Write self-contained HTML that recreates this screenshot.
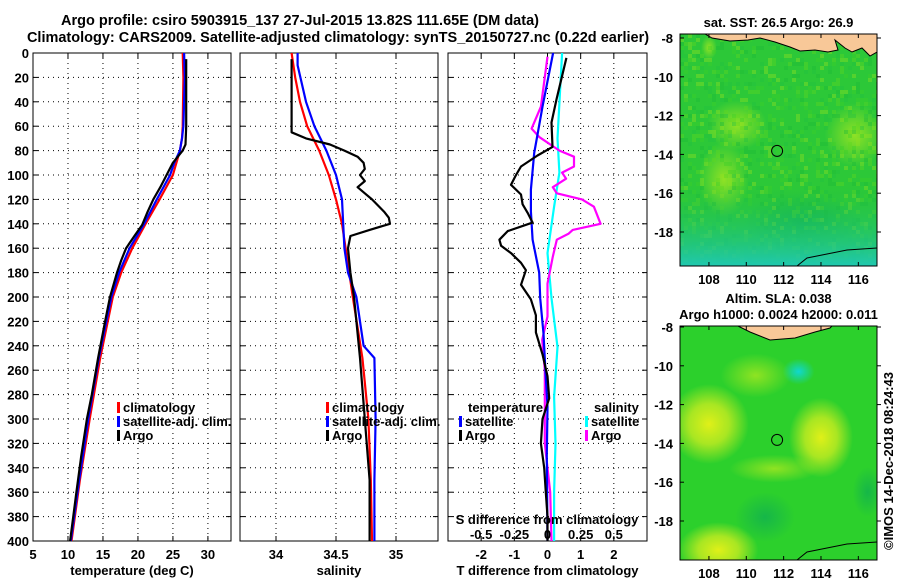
<!DOCTYPE html>
<html><head><meta charset="utf-8">
<style>
body{margin:0;background:#fff;}
svg{display:block;font-family:"Liberation Sans",sans-serif;font-weight:bold;}
text{font-size:13px;fill:#000;}
.t{font-size:14.5px;}
</style></head>
<body>
<svg id="fig" width="900" height="580" viewBox="0 0 900 580">
<defs>
<radialGradient id="yb" cx="50%" cy="50%" r="50%"><stop offset="0" stop-color="#e0f018" stop-opacity="1"/><stop offset="0.5" stop-color="#c8ec20" stop-opacity="0.8"/><stop offset="1" stop-color="#c8ec20" stop-opacity="0"/></radialGradient>
<radialGradient id="yb2" cx="50%" cy="50%" r="50%"><stop offset="0" stop-color="#a8e820" stop-opacity="0.8"/><stop offset="1" stop-color="#a8e820" stop-opacity="0"/></radialGradient>
<radialGradient id="cb" cx="50%" cy="50%" r="50%"><stop offset="0" stop-color="#10d8d0" stop-opacity="1"/><stop offset="1" stop-color="#10d8d0" stop-opacity="0"/></radialGradient>
<radialGradient id="db" cx="50%" cy="50%" r="50%"><stop offset="0" stop-color="#10b050" stop-opacity="0.8"/><stop offset="1" stop-color="#10b050" stop-opacity="0"/></radialGradient>
<linearGradient id="sstbot" x1="0" y1="0" x2="0" y2="1"><stop offset="0.65" stop-color="#1cc040" stop-opacity="0"/><stop offset="1" stop-color="#20c8b0" stop-opacity="1"/></linearGradient>
<clipPath id="m1c"><rect x="680" y="34" width="197" height="232"/></clipPath>
<clipPath id="m2c"><rect x="680" y="326" width="197" height="234"/></clipPath>
</defs>
<text class="t" x="300" y="25" text-anchor="middle">Argo profile: csiro 5903915_137 27-Jul-2015 13.82S 111.65E (DM data)</text>
<text class="t" x="338" y="42" text-anchor="middle">Climatology: CARS2009. Satellite-adjusted climatology: synTS_20150727.nc (0.22d earlier)</text>
<g id="panels"></g>
<g id="maps"></g>
<text x="0" y="0" transform="translate(893,550) rotate(-90)" font-size="12">©IMOS 14-Dec-2018 08:24:43</text>
</svg>
<script>
// ---- data ----
const depthTick=[0,20,40,60,80,100,120,140,160,180,200,220,240,260,280,300,320,340,360,380,400];
const tTicks=[5,10,15,20,25,30];
const sTicks=[34,34.5,35];
const dTTicks=[-2,-1,0,1,2];
const dSTicks=[-0.5,-0.25,0,0.25,0.5];
const dSTickLabels=["-0.5","-0.25","0","0.25","0.5"];

const tClimZ=[0,20,60,70,80,90,100,120,140,160,180,200,250,300,350,400];
const tClimV=[26.4,26.5,26.4,26.3,26.0,25.5,25.0,23.1,21.1,19.2,17.6,16.4,14.6,13.1,11.7,10.5];
const tSatZ=[0,20,60,70,80,90,100,120,140,160,180,200,250,300,350,400];
const tSatV=[26.6,26.7,26.5,26.3,26.0,25.2,24.6,22.7,20.9,18.8,17.3,16.2,14.4,12.9,11.6,10.4];
const tArgoZ=[5,20,40,60,75,80,90,100,110,120,130,141,150,160,170,180,200,220,250,280,300,330,360,400];
const tArgoV=[26.9,26.9,26.9,26.9,26.8,26.4,25.0,24.1,23.2,22.2,21.4,20.6,19.5,18.3,17.6,17.0,16.0,15.3,14.3,13.4,12.7,11.9,11.2,10.3];

const sClimZ=[0,20,40,60,80,100,120,140,160,180,200,250,300,350,400];
const sClimV=[34.13,34.16,34.2,34.26,34.36,34.44,34.5,34.55,34.58,34.61,34.64,34.72,34.77,34.79,34.8];
const sSatZ=[0,10,40,60,80,100,120,140,160,180,200,240,250,300,350,400];
const sSatV=[34.18,34.18,34.25,34.32,34.42,34.5,34.55,34.56,34.57,34.6,34.67,34.73,34.82,34.83,34.82,34.82];
const sArgoZ=[5,40,65,70,75,80,85,90,95,100,105,110,115,120,125,130,135,140,145,150,160,180,200,250,300,350,400];
const sArgoV=[34.13,34.13,34.13,34.25,34.45,34.57,34.68,34.73,34.74,34.7,34.74,34.68,34.74,34.8,34.85,34.9,34.94,34.95,34.78,34.62,34.6,34.62,34.65,34.7,34.74,34.78,34.78];

const dTArgoZ=[4,38,57,77,84,93,100,108,116,124,131,139,146,153,158,164,172,178,190,202,215,229,247,265,283,300,320,340,360,380,400];
const dTArgoV=[0.57,0.27,0.12,0.15,-0.3,-0.8,-0.95,-1.1,-0.8,-0.75,-0.6,-0.45,-1.2,-1.45,-1.4,-1.1,-0.8,-0.65,-0.8,-0.5,-0.35,-0.35,-0.15,0.0,0.05,-0.15,-0.2,-0.1,-0.05,0.0,0.0];
const dTSatZ=[0,44,82,112,130,153,180,201,230,257,290,330,400];
const dTSatV=[0.17,-0.15,-0.4,-0.5,-0.5,-0.45,-0.25,-0.22,-0.12,-0.07,0.0,-0.02,0.0];
const dSSatZ=[0,70,98,126,164,201,241,282,320,360,400];
const dSSatV=[0.11,0.075,0.09,0.05,0.0,0.03,0.075,0.05,0.06,0.05,0.05];
const dSArgoZ=[3,44,62,69,80,85,93,98,103,110,115,120,126,140,145,148,153,167,189,216,235,260,282,320,360,400];
const dSArgoV=[0.0,-0.05,-0.12,-0.06,0.09,0.2,0.2,0.11,0.14,0.04,0.07,0.26,0.35,0.4,0.19,0.16,0.07,0.04,0.0,0.0,-0.04,-0.02,-0.02,-0.02,0.02,0.03];

// ---- helpers ----
const NS="http://www.w3.org/2000/svg";
const Y0=53,Y1=541;
const yD=d=>Y0+(d/400)*(Y1-Y0);
function mk(tag,attrs,parent){const e=document.createElementNS(NS,tag);for(const k in attrs)e.setAttribute(k,attrs[k]);parent.appendChild(e);return e;}
const P=document.getElementById('panels');

function panel(name,x0,x1,vmin,vmax,ticks,tickLabels,xlabel){
  const g=mk('g',{},P);
  
  
  const xs=v=>x0+(v-vmin)/(vmax-vmin)*(x1-x0);
  depthTick.forEach((d,i)=>{
    if(i>0&&i<depthTick.length-1){const l=mk('line',{x1:x0,x2:x1,y1:yD(d),y2:yD(d),stroke:'#000','stroke-dasharray':'1,4','stroke-width':1},g);
    }
    mk('line',{x1:x0,x2:x0+5,y1:yD(d),y2:yD(d),stroke:'#000'},g);
    mk('line',{x1:x1-5,x2:x1,y1:yD(d),y2:yD(d),stroke:'#000'},g);
  });
  ticks.forEach((v,i)=>{
    const x=xs(v);
    if(x>x0+1&&x<x1-1){const l=mk('line',{x1:x,x2:x,y1:Y0,y2:Y1,stroke:'#000','stroke-dasharray':'1,4'},g);
    }
    mk('line',{x1:x,x2:x,y1:Y1,y2:Y1-5,stroke:'#000'},g);
    mk('line',{x1:x,x2:x,y1:Y0,y2:Y0+5,stroke:'#000'},g);
    if(tickLabels){const t=mk('text',{x:x,y:Y1+18,'text-anchor':'middle'},g);t.textContent=tickLabels[i];
    }
  });
  const fr=mk('rect',{x:x0,y:Y0,width:x1-x0,height:Y1-Y0,fill:'none',stroke:'#000','stroke-width':1},g);
  
  if(xlabel){const t=mk('text',{x:(x0+x1)/2,y:Y1+34,'text-anchor':'middle'},g);t.textContent=xlabel;
  }
  return {g,xs};
}
function line(p,zs,vs,color,name,scale){
  const pts=zs.map((z,i)=>p.xs(vs[i]*(scale||1)).toFixed(1)+','+yD(z).toFixed(1)).join(' ');
  const l=mk('polyline',{points:pts,fill:'none',stroke:color,'stroke-width':2.2,'stroke-linejoin':'round'},p.g);
  
  
}
function legend(p,x,y,items){
  items.forEach((it,i)=>{
    const yy=y+i*14;
    if(it.c){const r=mk('rect',{x:x,y:yy-10,width:3,height:11,fill:it.c},p.g);
    }
    const t=mk('text',{x:x+(it.c?6:0),y:yy},p.g);t.textContent=it.t;
    
  });
}
depthTick.forEach(d=>{const t=mk('text',{x:29,y:yD(d)+5,'text-anchor':'end'},P);t.textContent=d;
});

const p1=panel('temperature-panel',33,231,5,33.3,tTicks,tTicks.map(String),'temperature (deg C)');
line(p1,tClimZ,tClimV,'#f00','temp-climatology');
line(p1,tSatZ,tSatV,'#00f','temp-satellite-adj');
line(p1,tArgoZ,tArgoV,'#000','temp-argo');
legend(p1,117,412,[{c:'#f00',t:'climatology'},{c:'#00f',t:'satellite-adj. clim.'},{c:'#000',t:'Argo'}]);

const p2=panel('salinity-panel',240,438,33.7,35.35,sTicks,['34','34.5','35'],'salinity');
line(p2,sClimZ,sClimV,'#f00','sal-climatology');
line(p2,sSatZ,sSatV,'#00f','sal-satellite-adj');
line(p2,sArgoZ,sArgoV,'#000','sal-argo');
legend(p2,326,412,[{c:'#f00',t:'climatology'},{c:'#00f',t:'satellite-adj. clim.'},{c:'#000',t:'Argo'}]);

const p3=panel('difference-panel',448,647,-3,3,dTTicks,dTTicks.map(String),'T difference from climatology');
line(p3,dSSatZ,dSSatV,'#0ff','sal-diff-satellite',4);
line(p3,dSArgoZ,dSArgoV,'#f0f','sal-diff-argo',4);
line(p3,dTSatZ,dTSatV,'#00f','temp-diff-satellite');
line(p3,dTArgoZ,dTArgoV,'#000','temp-diff-argo');
legend(p3,468,412,[{t:'temperature'}]);
legend(p3,459,426,[{c:'#00f',t:'satellite'},{c:'#000',t:'Argo'}]);
legend(p3,594,412,[{t:'salinity'}]);
legend(p3,585,426,[{c:'#0ff',t:'satellite'},{c:'#f0f',t:'Argo'}]);
{const t=mk('text',{x:547,y:524,'text-anchor':'middle'},p3.g);t.textContent='S difference from climatology';
}
dSTicks.forEach((v,i)=>{const t=mk('text',{x:p3.xs(v*4),y:539,'text-anchor':'middle'},p3.g);t.textContent=dSTickLabels[i];
});

// ---- maps ----
const M=document.getElementById('maps');
const lonTicks=[108,110,112,114,116];
const latTicks=[-8,-10,-12,-14,-16,-18];
function hash(i,j){const s=Math.sin(i*12.9898+j*78.233)*43758.5453;return s-Math.floor(s);}
function map(name,x0,x1,yTop,yBot,lat8y,pxPerDeg,title,blobs,bg,coast,texture){
  const g=mk('g',{},M);
  
  
  const lx=lon=>x0+(lon-106.45)/(117-106.45)*(x1-x0);
  const ly=lat=>lat8y+(-8-lat)*pxPerDeg;
  const cg=mk('g',{'clip-path':'url(#'+(name==='sst-map'?'m1c':'m2c')+')'},g);
  mk('rect',{x:x0,y:yTop,width:x1-x0,height:yBot-yTop,fill:bg},cg);
  blobs.forEach(b=>mk('ellipse',{cx:lx(b[0]),cy:ly(b[1]),rx:b[2],ry:b[3],fill:'url(#'+b[4]+')'},cg));
  if(texture){
    const cols=['#1cb838','#3cd028','#60d820','#20c040','#90e020'];
    for(let j=0;j<58;j++)for(let i=0;i<50;i++){
      const h=hash(i,j);
      if(h<0.4){const c=cols[Math.floor(hash(j+7,i+3)*5)];
        mk('rect',{x:x0+i*4,y:yTop+j*4,width:4,height:4,fill:c,opacity:0.4},cg);}
    }
    mk('rect',{x:x0,y:yTop,width:x1-x0,height:yBot-yTop,fill:'url(#sstbot)'},cg);
  }
  coast.forEach(c=>{const p=mk('path',{d:c,fill:'#f8c898',stroke:'#000','stroke-width':1},cg);
  });
  mk('path',{d:`M${x1-80},${yBot} L${x1-70},${yBot-8} L${x1-50},${yBot-12} L${x1-30},${yBot-16} L${x1},${yBot-18}`,fill:'none',stroke:'#000'},cg);
  const fr=mk('rect',{x:x0,y:yTop,width:x1-x0,height:yBot-yTop,fill:'none',stroke:'#000'},g);
  
  lonTicks.forEach(l=>{const x=lx(l);mk('line',{x1:x,x2:x,y1:yBot,y2:yBot-4,stroke:'#000'},g);mk('line',{x1:x,x2:x,y1:yTop,y2:yTop+4,stroke:'#000'},g);
    const t=mk('text',{x:x,y:yBot+18,'text-anchor':'middle'},g);t.textContent=l;
    });
  latTicks.forEach(l=>{const y=ly(l);mk('line',{x1:x0,x2:x0+4,y1:y,y2:y,stroke:'#000'},g);mk('line',{x1:x1,x2:x1+4,y1:y,y2:y,stroke:'#000'},g);
    const t=mk('text',{x:x0-7,y:y+5,'text-anchor':'end'},g);t.textContent=l;
    });
  const c=mk('circle',{cx:lx(111.65),cy:ly(-13.82),r:5.5,fill:'none',stroke:'#000'},g);
  
  title.forEach((s,i)=>{const t=mk('text',{x:(x0+x1)/2,y:(yTop-(title.length-1-i)*16)-7,'text-anchor':'middle'},g);t.textContent=s;
  });
}
map('sst-map',680,877,34,266,38,19.4,['sat. SST: 26.5 Argo: 26.9'],
  [[108.8,-15.3,25,38,'yb2'],[109.5,-12.5,30,25,'yb2'],[115.8,-13,30,32,'yb2'],[113,-17.5,60,30,'db'],[108,-8.5,8,12,'yb2']],
  '#2cc838',
  ['M705,34 L712,38 L730,41 L748,40 L760,38 L775,42 L790,47 L800,51 L815,50 L828,52 L838,50 L835,40 L845,48 L852,52 L862,48 L870,56 L877,52 L877,34 Z'],true);
map('sla-map',680,877,326,560,327,19.4,['Altim. SLA: 0.038','Argo h1000: 0.0024 h2000: 0.011'],
  [[108,-13,40,40,'yb'],[114,-13.7,32,40,'yb'],[108.5,-19.5,40,28,'yb'],[112.8,-10.3,16,13,'cb'],[111,-17.8,30,25,'db'],[110.5,-10.5,35,22,'yb2'],[111.5,-15.3,45,14,'yb2'],[116.5,-16.5,15,25,'db']],
  '#2cd02c',
  ['M738,326 L750,332 L770,340 L795,338 L815,332 L830,328 L832,326 Z']);
</script>
</body></html>
